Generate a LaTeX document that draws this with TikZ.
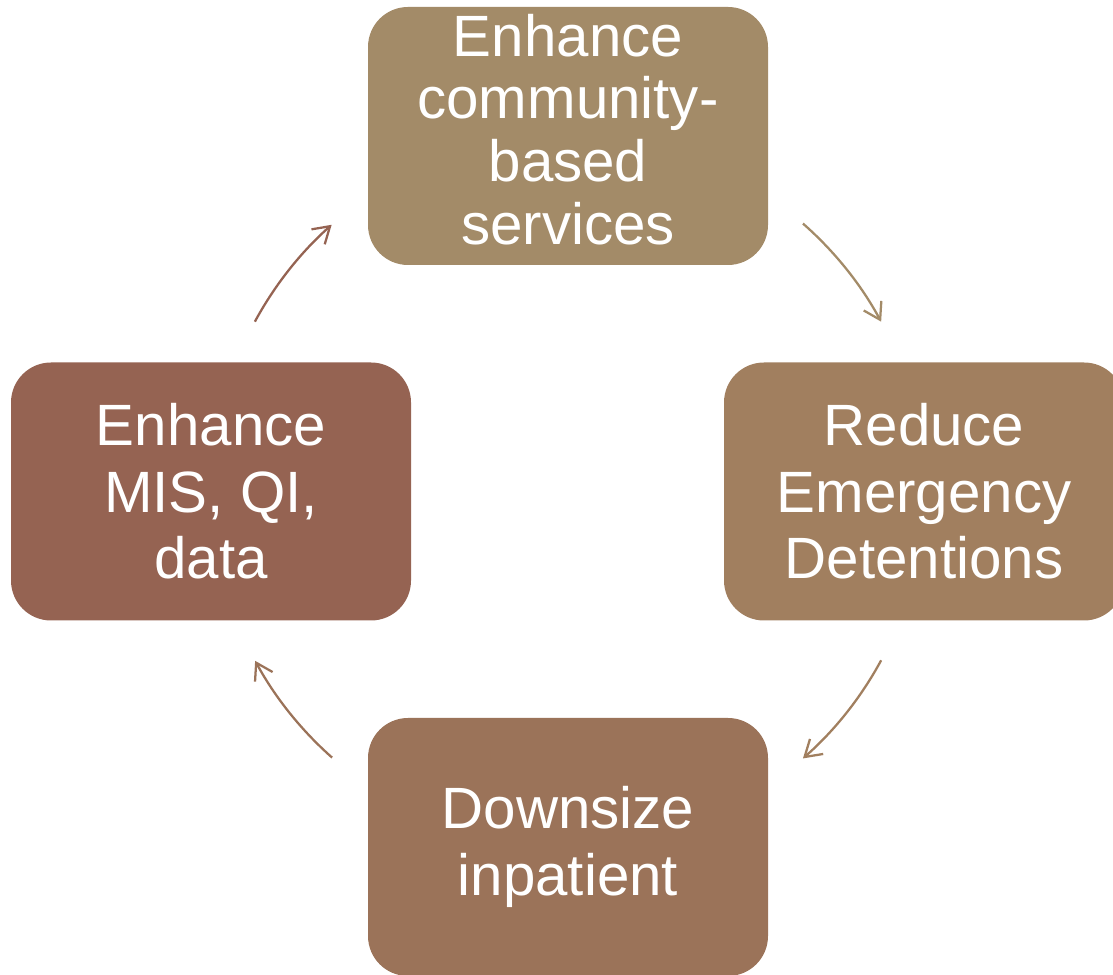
\documentclass[tikz,border=0pt]{standalone}
\usepackage{fontspec}
\setmainfont{Liberation Sans}
\usetikzlibrary{arrows.meta,calc}
\definecolor{ctop}{RGB}{163,139,104}
\definecolor{cright}{RGB}{161,127,95}
\definecolor{cbottom}{RGB}{155,115,89}
\definecolor{cleft}{RGB}{149,99,82}
\begin{document}
\begin{tikzpicture}[x=0.75pt,y=0.75pt,
  box/.style={rounded corners=30pt, minimum width=300pt, minimum height=193.5pt,
    inner sep=0pt, text=white, align=center, font=\fontsize{43.7}{50}\selectfont},
  cyc/.style={line width=1.7pt, -{Straight Barb[length=12pt,width=15pt]}}]
\useasboundingbox (0,0) rectangle (1113,974);
\clip (0,0) rectangle (1113,974);
\coordinate (c) at (568,483);
\node[box, fill=ctop, text depth=10.5pt, font=\fontsize{43.7}{47}\selectfont] (top) at (568,838)
  {Enhance\\community-\\based\\services};
\node[box, fill=cright] (right) at (924,482.5) {Reduce\\Emergency\\Detentions};
\node[box, fill=cbottom] (bottom) at (568,127) {Downsize\\inpatient};
\node[box, fill=cleft] (left) at (211,482.5) {Enhance\\MIS, QI,\\data};
\draw[cyc, color=cleft] ($(c)+(151.6:267pt)$) arc[start angle=151.6, end angle=131.6, radius=267pt];
\draw[cyc, color=ctop] ($(c)+(48.7:267pt)$) arc[start angle=48.7, end angle=28.4, radius=267pt];
\draw[cyc, color=cright] ($(c)+(-28.4:267pt)$) arc[start angle=-28.4, end angle=-48.7, radius=267pt];
\draw[cyc, color=cbottom] ($(c)+(-131.5:267pt)$) arc[start angle=-131.5, end angle=-151.5, radius=267pt];
\end{tikzpicture}
\end{document}
